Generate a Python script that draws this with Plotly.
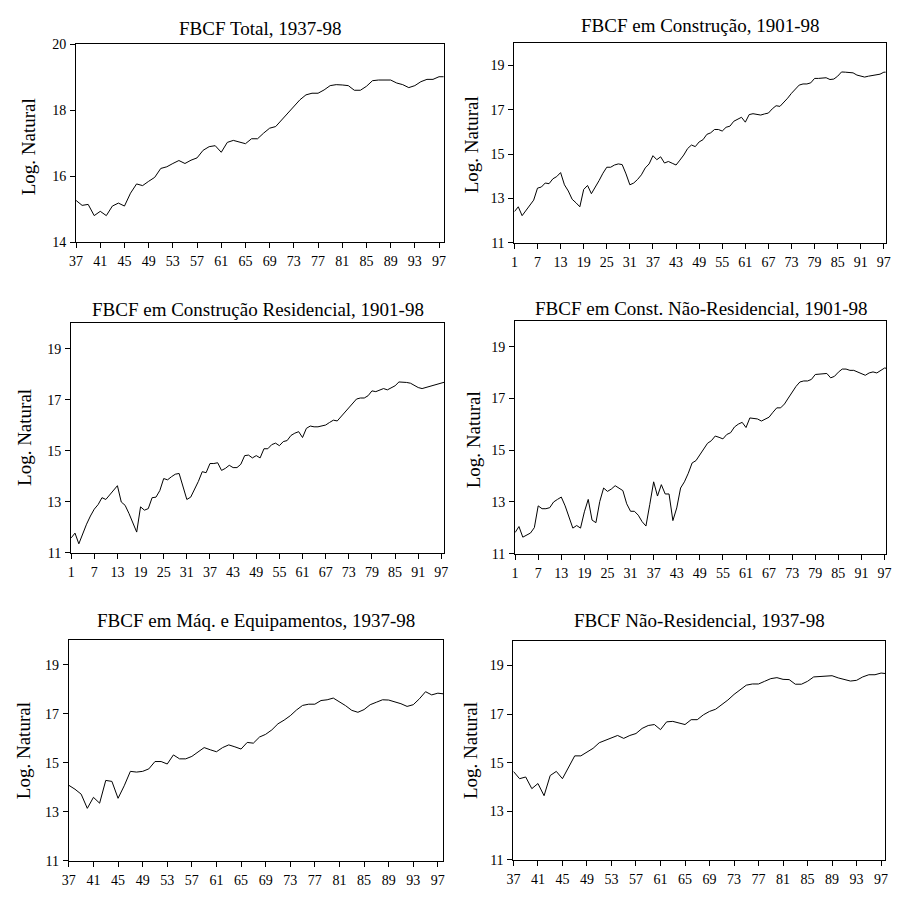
import plotly.graph_objects as go

W, H = 897, 898

# ---------------- data (log natural) ----------------
years_1937 = list(range(37, 99))
years_1901 = list(range(1, 99))

fbcf_total = [15.26, 15.11, 15.14, 14.80, 14.93, 14.80, 15.09, 15.18, 15.09, 15.48,
              15.76, 15.71, 15.84, 15.96, 16.23, 16.28, 16.38, 16.47, 16.38, 16.48,
              16.55, 16.78, 16.89, 16.92, 16.72, 17.02, 17.08, 17.03, 16.98, 17.13,
              17.13, 17.30, 17.45, 17.50, 17.70, 17.89, 18.12, 18.31, 18.46, 18.51,
              18.51, 18.61, 18.74, 18.77, 18.76, 18.74, 18.60, 18.60, 18.72, 18.89,
              18.91, 18.91, 18.91, 18.82, 18.77, 18.68, 18.74, 18.86, 18.93, 18.93,
              19.01, 19.01]

fbcf_construcao = [12.41, 12.63, 12.23, 12.45, 12.67, 12.93, 13.47, 13.52, 13.70, 13.67,
                   13.89, 13.99, 14.17, 13.62, 13.34, 12.97, 12.81, 12.63, 13.41, 13.59,
                   13.22, 13.49, 13.81, 14.14, 14.41, 14.41, 14.51, 14.56, 14.53, 14.11,
                   13.62, 13.70, 13.86, 14.07, 14.38, 14.56, 14.93, 14.75, 14.88, 14.60,
                   14.67, 14.59, 14.51, 14.73, 14.96, 15.25, 15.41, 15.34, 15.55, 15.65,
                   15.89, 15.96, 16.11, 16.11, 16.04, 16.21, 16.26, 16.48, 16.56, 16.66,
                   16.44, 16.78, 16.82, 16.78, 16.76, 16.81, 16.85, 17.04, 17.18, 17.15,
                   17.33, 17.52, 17.74, 17.93, 18.11, 18.16, 18.16, 18.21, 18.41, 18.41,
                   18.44, 18.44, 18.36, 18.38, 18.51, 18.70, 18.69, 18.67, 18.66, 18.56,
                   18.51, 18.47, 18.51, 18.54, 18.54, 18.60, 18.69, 18.69]

fbcf_residencial = [11.58, 11.77, 11.35, 11.77, 12.12, 12.44, 12.71, 12.89, 13.16, 13.09,
                    13.27, 13.44, 13.63, 12.99, 12.86, 12.54, 12.16, 11.81, 12.80, 12.67,
                    12.73, 13.16, 13.18, 13.44, 13.91, 13.86, 13.98, 14.08, 14.11, 13.63,
                    13.09, 13.18, 13.46, 13.80, 14.18, 14.14, 14.50, 14.50, 14.53, 14.23,
                    14.31, 14.43, 14.34, 14.34, 14.47, 14.81, 14.83, 14.72, 14.81, 14.72,
                    15.08, 15.08, 15.24, 15.30, 15.20, 15.36, 15.40, 15.60, 15.69, 15.75,
                    15.52, 15.88, 15.97, 15.94, 15.94, 15.98, 16.01, 16.11, 16.20, 16.17,
                    16.35, 16.49, 16.71, 16.88, 17.03, 17.07, 17.07, 17.16, 17.35, 17.32,
                    17.38, 17.44, 17.39, 17.46, 17.55, 17.70, 17.70, 17.68, 17.65, 17.55,
                    17.48, 17.44, 17.48, 17.51, 17.55, 17.61, 17.66, 17.70]

fbcf_const_nao_res = [11.82, 12.05, 11.64, 11.73, 11.80, 12.01, 12.85, 12.74, 12.74, 12.78,
                      13.00, 13.10, 13.19, 12.85, 12.45, 11.99, 12.09, 11.99, 12.62, 13.10,
                      12.30, 12.20, 13.02, 13.54, 13.41, 13.50, 13.63, 13.54, 13.44, 12.93,
                      12.64, 12.64, 12.49, 12.24, 12.07, 12.91, 13.78, 13.23, 13.67, 13.31,
                      13.31, 12.28, 12.77, 13.54, 13.78, 14.11, 14.51, 14.60, 14.83, 15.08,
                      15.27, 15.37, 15.55, 15.50, 15.44, 15.61, 15.68, 15.90, 16.01, 16.08,
                      15.88, 16.25, 16.22, 16.21, 16.13, 16.22, 16.28, 16.47, 16.64, 16.64,
                      16.79, 17.02, 17.27, 17.47, 17.64, 17.68, 17.68, 17.74, 17.93, 17.95,
                      17.95, 17.97, 17.80, 17.86, 18.02, 18.14, 18.14, 18.09, 18.09, 18.02,
                      17.98, 17.90, 17.99, 18.03, 17.99, 18.08, 18.18, 18.16]

fbcf_maquinas = [14.08, 13.92, 13.72, 13.14, 13.59, 13.35, 14.28, 14.24, 13.55, 14.06,
                 14.65, 14.62, 14.65, 14.75, 15.05, 15.05, 14.95, 15.32, 15.16, 15.16,
                 15.26, 15.45, 15.62, 15.53, 15.45, 15.62, 15.73, 15.65, 15.56, 15.83,
                 15.80, 16.05, 16.16, 16.34, 16.59, 16.74, 16.92, 17.15, 17.34, 17.39,
                 17.39, 17.54, 17.57, 17.64, 17.50, 17.33, 17.14, 17.06, 17.17, 17.37,
                 17.47, 17.57, 17.56, 17.50, 17.41, 17.30, 17.37, 17.61, 17.90, 17.77,
                 17.84, 17.81]

fbcf_nao_residencial = [14.64, 14.34, 14.41, 13.93, 14.14, 13.64, 14.47, 14.64, 14.34, 14.78,
                        15.28, 15.28, 15.45, 15.59, 15.82, 15.93, 16.03, 16.12, 16.00, 16.12,
                        16.20, 16.41, 16.53, 16.57, 16.36, 16.68, 16.70, 16.64, 16.57, 16.77,
                        16.77, 16.97, 17.11, 17.20, 17.38, 17.58, 17.81, 18.01, 18.19, 18.24,
                        18.24, 18.35, 18.46, 18.50, 18.43, 18.42, 18.23, 18.23, 18.35, 18.53,
                        18.55, 18.58, 18.58, 18.49, 18.42, 18.36, 18.39, 18.53, 18.62, 18.62,
                        18.69, 18.66]

titles = ["FBCF Total, 1937-98",
          "FBCF em Construção, 1901-98",
          "FBCF em Construção Residencial, 1901-98",
          "FBCF em Const. Não-Residencial, 1901-98",
          "FBCF em Máq. e Equipamentos, 1937-98",
          "FBCF Não-Residencial, 1937-98"]
ytitle = "Log. Natural"

xticks_1937 = list(range(37, 98, 4))
xticks_1901 = list(range(1, 98, 6))
yticks_a = [14, 16, 18, 20]
yticks_b = [11, 13, 15, 17, 19]

series = [(years_1937, fbcf_total), (years_1901, fbcf_construcao),
          (years_1901, fbcf_residencial), (years_1901, fbcf_const_nao_res),
          (years_1937, fbcf_maquinas), (years_1937, fbcf_nao_residencial)]

# ---------------- layout (pixel boxes) ----------------
boxes = [  # x0, x1, y0(top), y1(bottom)
    (70, 442.5, 37.7, 239),
    (514.3, 890.5, 36.7, 240),
    (65, 443, 321.7, 555),
    (515, 891, 319.3, 556),
    (62.7, 442.3, 644, 868.3),
    (513.3, 890.3, 645, 867.3),
]
xranges = [[37, 97.75], [1, 97.45], [1, 97.7], [1, 97.4], [37, 97.9], [37, 97.7]]
yranges = [[14, 20], [11, 20], [11, 20], [11, 20], [11, 20], [11, 20]]
xtickset = [xticks_1937, xticks_1901, xticks_1901, xticks_1901, xticks_1937, xticks_1937]
ytickset = [yticks_a, yticks_b, yticks_b, yticks_b, yticks_b, yticks_b]
title_y = [22, 19, 308, 307, 624, 624]
ytitle_pos = [(22, 142), (471, 140), (17, 437.5), (473, 440), (17, 756), (470, 756)]

FONT = "Liberation Serif, Times New Roman, serif"

fig = go.Figure()
annotations = []
layout_axes = {}
for i, ((xs, ys), box) in enumerate(zip(series, boxes)):
    n = "" if i == 0 else str(i + 1)
    fig.add_trace(go.Scatter(x=xs, y=ys, mode="lines",
                             line=dict(color="black", width=1),
                             xaxis="x" + n, yaxis="y" + n, showlegend=False,
                             hoverinfo="skip"))
    x0, x1, yt, yb = box
    common = dict(showline=True, linecolor="black", linewidth=1, mirror=True,
                  ticks="outside", ticklen=5, tickcolor="black", tickwidth=1,
                  showgrid=False, zeroline=False,
                  tickfont=dict(family=FONT, size=14, color="black"))
    layout_axes["xaxis" + n] = dict(domain=[x0 / W, x1 / W], range=xranges[i],
                                    anchor="y" + n, tickmode="array",
                                    tickvals=xtickset[i],
                                    ticktext=[str(v) for v in xtickset[i]],
                                    ticklabelstandoff=1, **common)
    layout_axes["yaxis" + n] = dict(domain=[1 - yb / H, 1 - yt / H], range=yranges[i],
                                    anchor="x" + n, tickmode="array",
                                    tickvals=ytickset[i], ticklabelstandoff=1, **common)
    annotations.append(dict(text=titles[i], x=(x0 + x1) / 2 / W, y=1 - title_y[i] / H,
                            xref="paper", yref="paper", xanchor="center",
                            yanchor="middle", showarrow=False,
                            font=dict(family=FONT, size=19, color="black")))
    tx, ty = ytitle_pos[i]
    annotations.append(dict(text=ytitle, x=tx / W, y=1 - ty / H, xref="paper",
                            yref="paper", xanchor="center", yanchor="middle",
                            textangle=-90, showarrow=False,
                            font=dict(family=FONT, size=19, color="black")))

fig.update_layout(width=W, height=H, margin=dict(l=0, r=0, t=0, b=0, pad=0),
                  paper_bgcolor="white", plot_bgcolor="white",
                  annotations=annotations, **layout_axes)

fig.write_html("out.html", config={"displayModeBar": False},
               post_script="document.body.style.margin='0';"
                           "document.body.style.overflow='hidden';")
